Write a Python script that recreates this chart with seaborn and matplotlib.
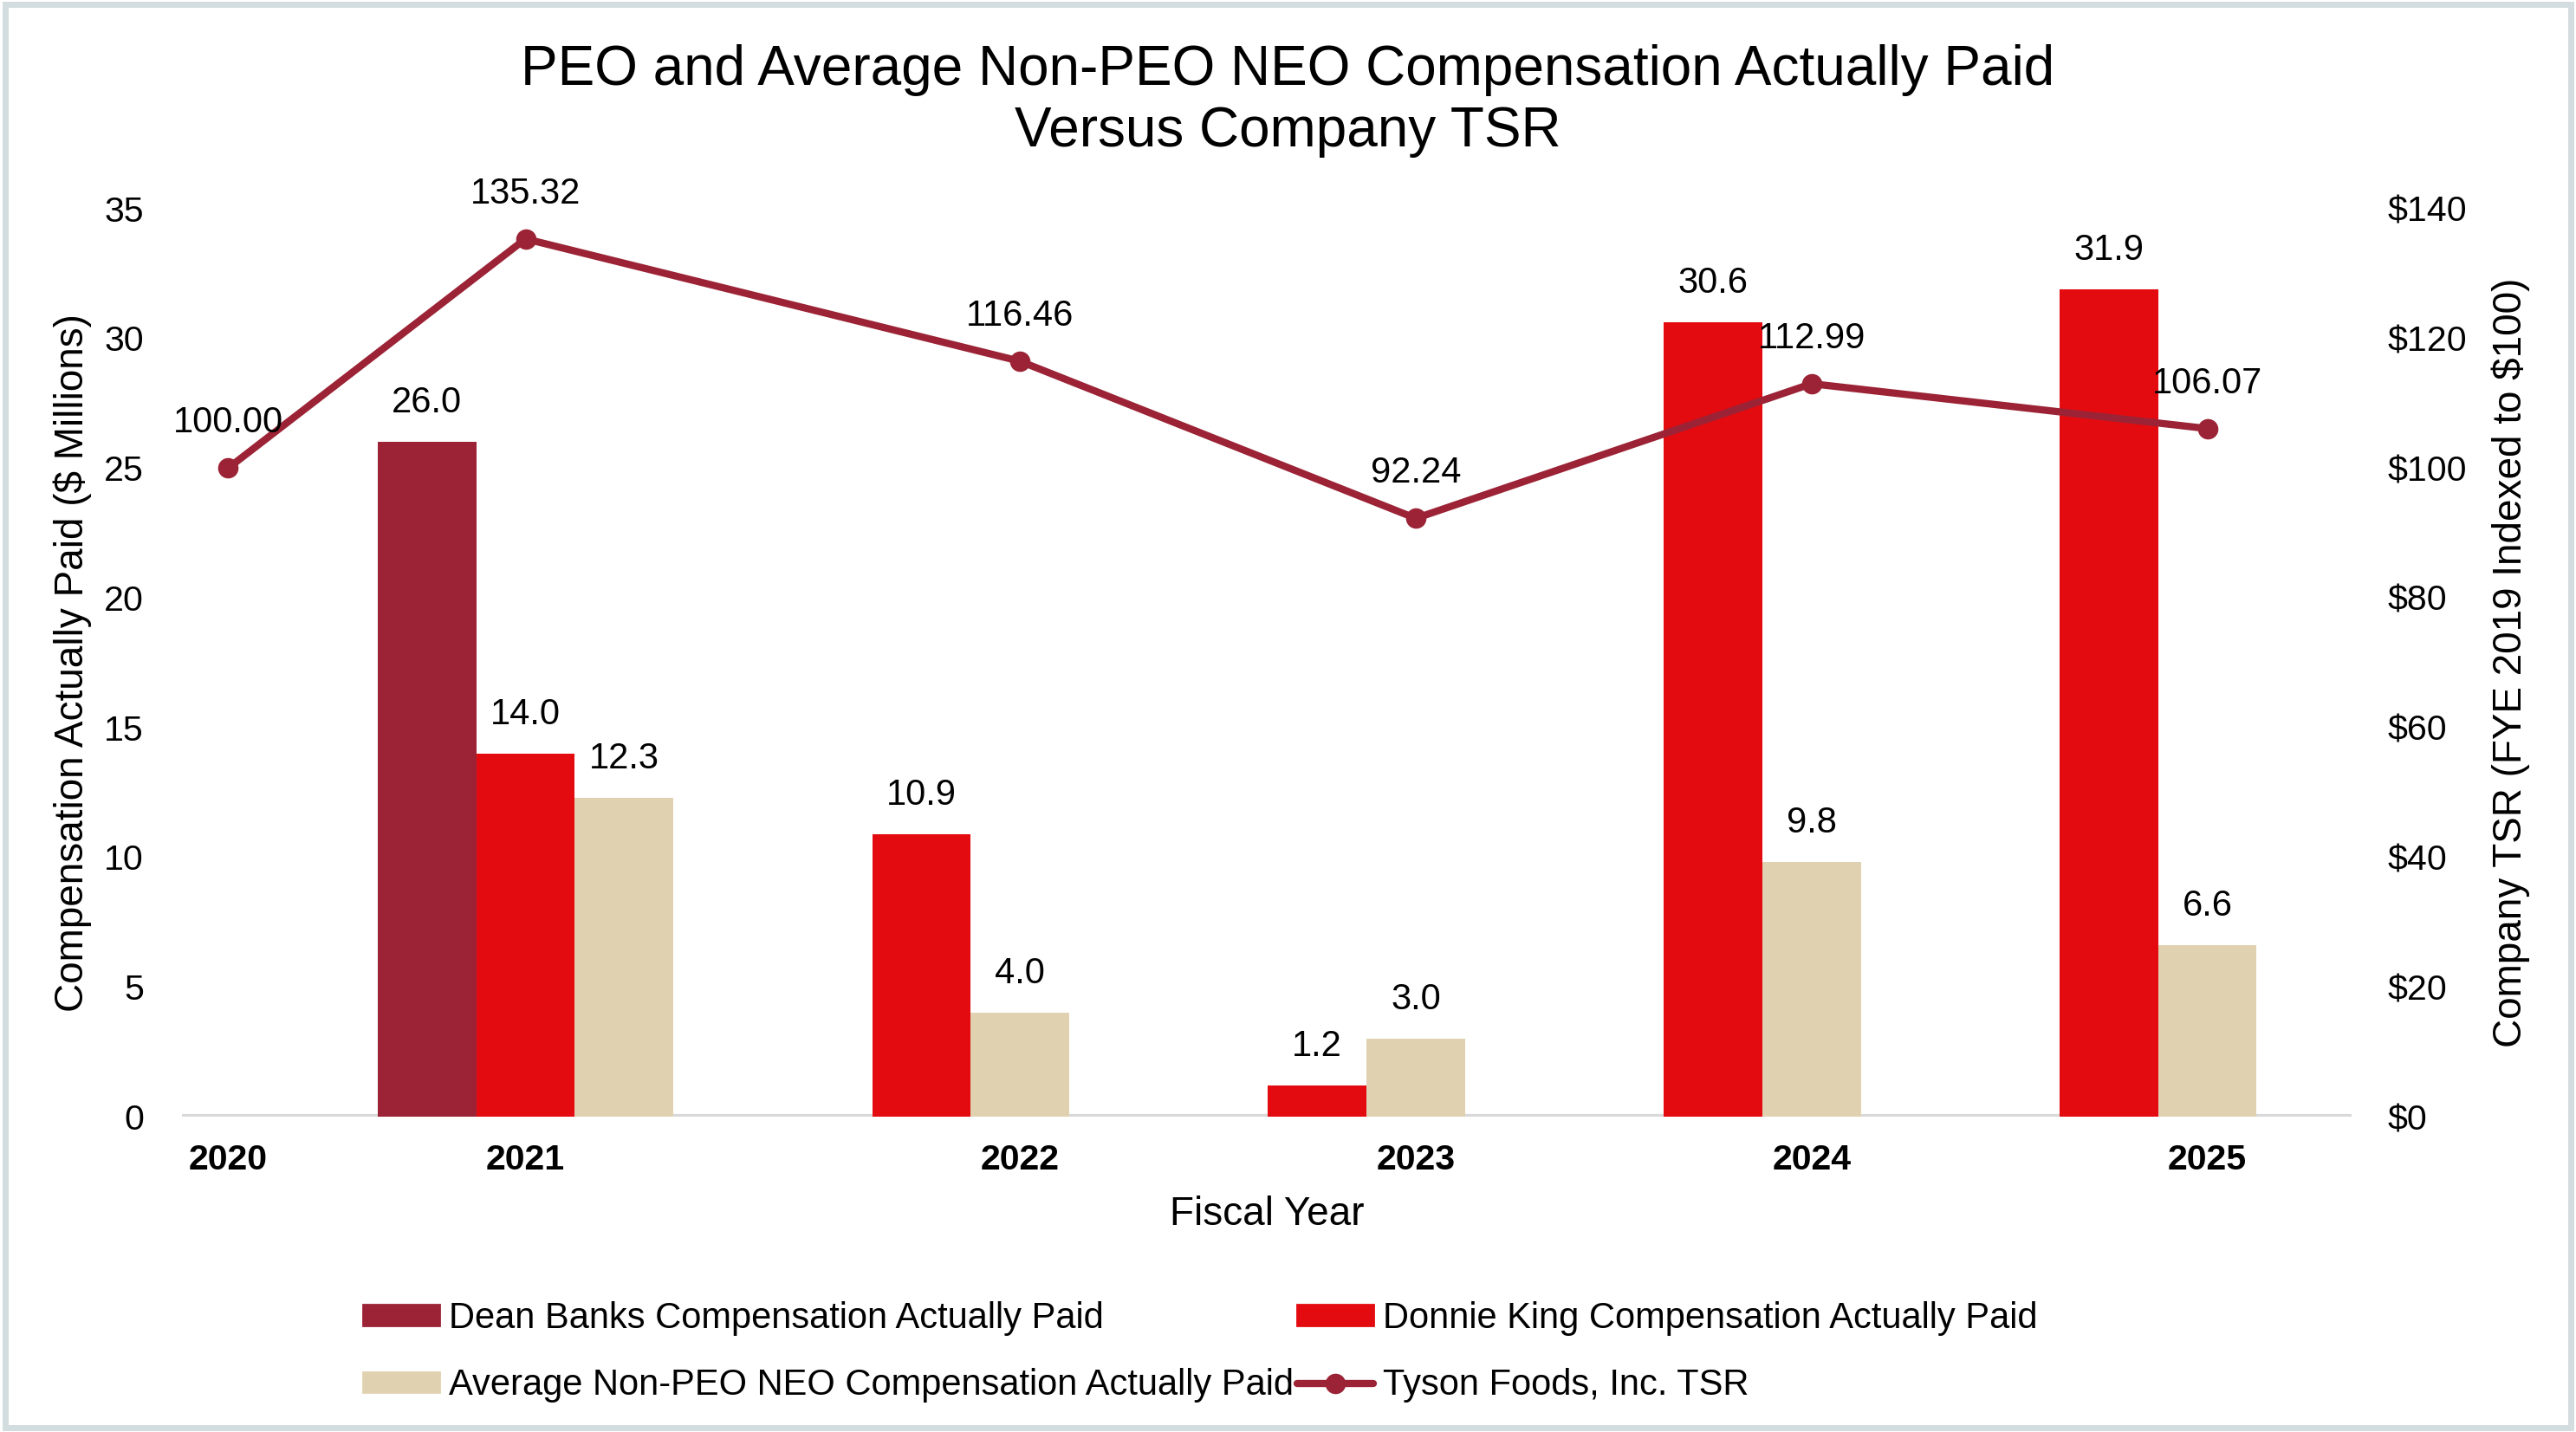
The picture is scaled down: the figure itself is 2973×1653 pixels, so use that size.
import numpy as np
import pandas as pd
import matplotlib
matplotlib.use("Agg")
import matplotlib.pyplot as plt
import seaborn as sns
from matplotlib.patches import Rectangle
from matplotlib.lines import Line2D

# ---------------- data ----------------
years = ["2020", "2021", "2022", "2023", "2024", "2025"]
dean_banks = [np.nan, 26.0, np.nan, np.nan, np.nan, np.nan]
donnie_king = [np.nan, 14.0, 10.9, 1.2, 30.6, 31.9]
avg_non_peo = [np.nan, 12.3, 4.0, 3.0, 9.8, 6.6]
tsr = [100.00, 135.32, 116.46, 92.24, 112.99, 106.07]

series_names = ["Dean Banks Compensation Actually Paid",
                "Donnie King Compensation Actually Paid",
                "Average Non-PEO NEO Compensation Actually Paid"]
tsr_name = "Tyson Foods, Inc. TSR"

# ---------------- style ----------------
C_DB = "#9B2335"
C_KING = "#E30B10"
C_AVG = "#E0D2B0"
C_LINE = "#9B2335"

sns.set_theme(style="white")
plt.rcParams["font.family"] = ["Liberation Sans", "DejaVu Sans"]
plt.rcParams["text.color"] = "black"
plt.rcParams["axes.labelcolor"] = "black"

FS = 15
FS_TICK = 14.8
FS_LAB = 16.5
fig = plt.figure(figsize=(14.865, 8.265), dpi=200)
ax = fig.add_axes([0.0708, 0.2202, 0.8422, 0.6342])
ax2 = ax.twinx()

# layout: bar slots inside each year group
w = 0.249
slot = {series_names[0]: -1, series_names[1]: 0, series_names[2]: 1}
tsr_slot = [1, 0, 1, 1, 1, 1]   # slot where each TSR point sits

df = pd.DataFrame({"year": years, series_names[0]: dean_banks,
                   series_names[1]: donnie_king, series_names[2]: avg_non_peo})
long = df.melt(id_vars="year", var_name="series", value_name="value").dropna()
long["k"] = long["year"].map({y: i for i, y in enumerate(years)})
colors = {series_names[0]: C_DB, series_names[1]: C_KING, series_names[2]: C_AVG}

for name in series_names:
    sub = long[long["series"] == name]
    xs = sub["k"].to_numpy() + slot[name] * w
    ax.bar(xs, sub["value"], width=w, color=colors[name], linewidth=0, zorder=2)
    for x, v in zip(xs, sub["value"]):
        ax.annotate(f"{v:.1f}", (x, v), xytext=(0, 9), textcoords="offset points",
                    ha="center", va="bottom", fontsize=FS, color="black")

tsr_x = np.arange(len(years)) + np.array(tsr_slot) * w
tsr_df = pd.DataFrame({"x": tsr_x, "tsr": tsr})
sns.lineplot(data=tsr_df, x="x", y="tsr", ax=ax2, color=C_LINE, linewidth=3.0,
             marker="o", markersize=8.5, markeredgewidth=0, zorder=3)
for x, v in zip(tsr_x, tsr):
    ax2.annotate(f"{v:.2f}", (x, v), xytext=(0, 11.5), textcoords="offset points",
                 ha="center", va="bottom", fontsize=FS, color="black")

# ---------------- axes ----------------
xmin, xmax = 0.133, 5.614
ax.set_xlim(xmin, xmax)
ax2.set_xlim(xmin, xmax)
ax.set_ylim(0, 35)
ax2.set_ylim(0, 140)
ax.set_yticks(np.arange(0, 36, 5))
ax2.set_yticks(np.arange(0, 141, 20))
ax2.set_yticklabels([f"${int(t)}" for t in np.arange(0, 141, 20)])
ax.set_xticks(tsr_x)
ax.set_xticklabels(years, fontweight="bold")
for a in (ax, ax2):
    for s in a.spines.values():
        s.set_visible(False)
    a.tick_params(length=0, labelsize=FS_TICK, colors="black")
    a.grid(False)
ax.tick_params(axis="y", pad=16)
ax2.tick_params(axis="y", pad=15)
ax.tick_params(axis="x", pad=11)
ax.axhline(0, color="#D9D9D9", linewidth=2.2, zorder=1)
ax.set_zorder(ax2.get_zorder() - 1)
ax.patch.set_visible(False)
ax2.patch.set_visible(False)

ax.set_xlabel("Fiscal Year", fontsize=FS_LAB, labelpad=8, color="black")
ax.set_ylabel("Compensation Actually Paid ($ Millions)", fontsize=FS_LAB, labelpad=5, color="black")
ax2.set_ylabel("Company TSR (FYE 2019 Indexed to $100)", fontsize=FS_LAB, labelpad=10, color="black")
ax2.set_xlabel("")

fig.suptitle("PEO and Average Non-PEO NEO Compensation Actually Paid\nVersus Company TSR",
             fontsize=23, y=0.969, linespacing=1.22, color="black")

# ---------------- legend ----------------
handles = [Rectangle((0, 0), 1, 1, color=C_DB), Rectangle((0, 0), 1, 1, color=C_AVG),
           Rectangle((0, 0), 1, 1, color=C_KING),
           Line2D([0], [0], color=C_LINE, linewidth=3.0, marker="o", markersize=8.5, markeredgewidth=0)]
labels = [series_names[0], series_names[2], series_names[1], tsr_name]
leg = fig.legend(handles, labels, loc="center", bbox_to_anchor=(0.466, 0.056), ncol=2,
                 frameon=False, fontsize=FS, handlelength=2.1, handleheight=0.5,
                 handletextpad=0.27, columnspacing=0.1, labelspacing=0.9)
for t in leg.get_texts():
    t.set_color("black")

# figure border
fig.patches.append(Rectangle((0.002, 0.003), 0.996, 0.994, transform=fig.transFigure,
                             fill=False, edgecolor="#D3DCDF", linewidth=2.5))

fig.savefig("out.png", dpi=200)
